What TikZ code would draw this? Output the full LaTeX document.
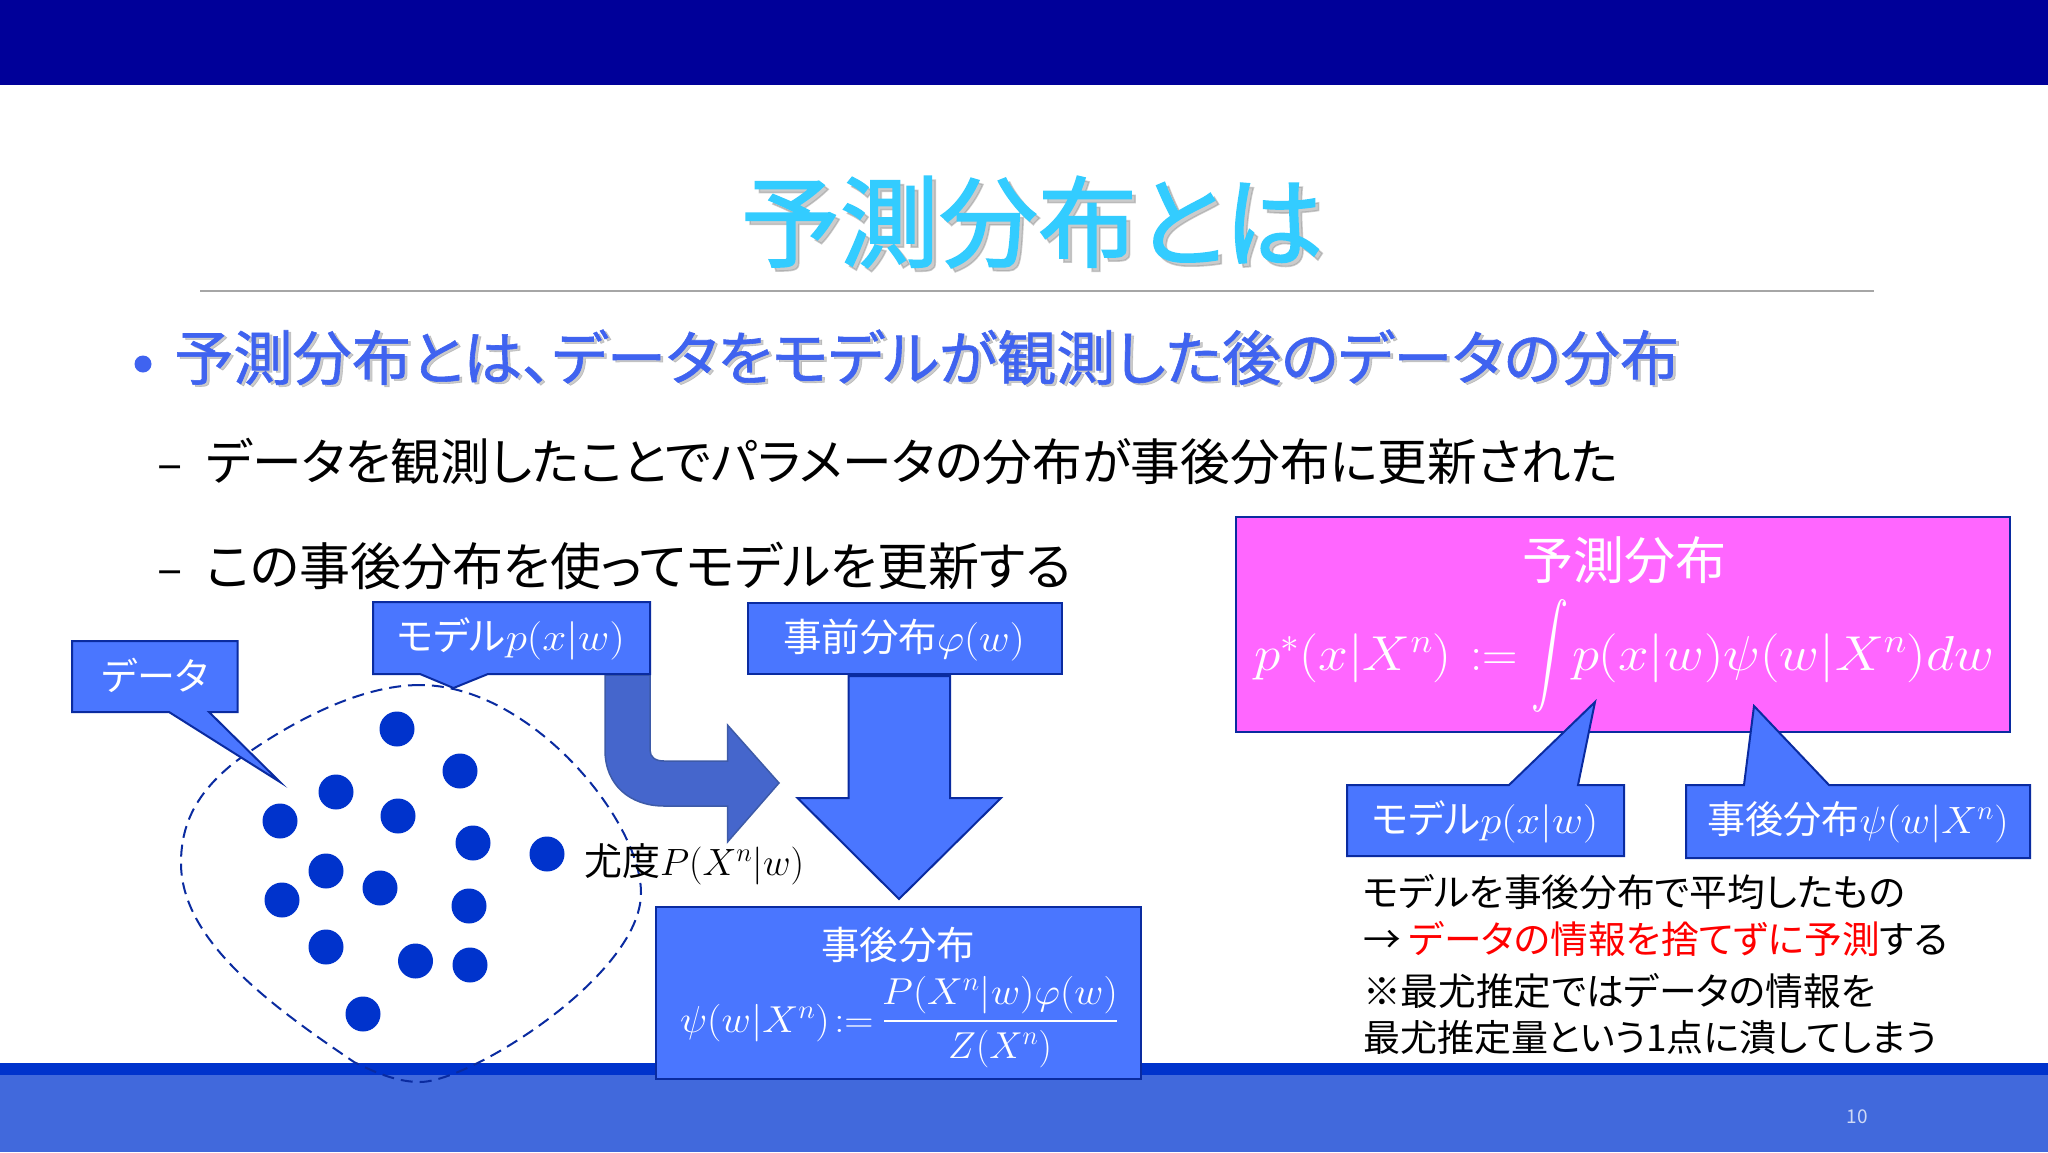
\RequirePackage{fix-cm}
\documentclass[tikz,border=0pt]{standalone}
\usepackage{amsmath}
\usepackage{fontspec}
\setmainfont[RawFeature={+palt}]{Noto Sans CJK JP}
\newfontfamily\headfont[RawFeature={+palt},FakeBold=1.6]{Noto Sans CJK JP}
\newfontfamily\bulletfont[RawFeature={+palt},FakeBold=1]{Noto Sans CJK JP}
\usetikzlibrary{calc}
\definecolor{topbar}{HTML}{000099}
\definecolor{botline}{HTML}{0033CC}
\definecolor{botbar}{HTML}{4169DC}
\definecolor{boxblue}{HTML}{4A76FF}
\definecolor{edgeblue}{HTML}{0A2BA0}
\definecolor{pinkbox}{HTML}{FF66FF}
\definecolor{dotblue}{HTML}{0033CC}
\definecolor{titleblue}{HTML}{33CCFF}
\definecolor{bulletblue}{HTML}{3F63F0}
\definecolor{bentfill}{HTML}{4566CC}
\definecolor{bentedge}{HTML}{3D5AA8}
\newcommand\fsz[1]{\fontsize{#1bp}{#1bp}\selectfont}
\newcommand\mth[2]{\scalebox{#1}[1]{$#2$}}
\tikzset{
  x=1bp,y=-1bp,
  callout/.style={fill=boxblue,draw=edgeblue,line width=2bp,line join=miter},
  pinkshape/.style={fill=pinkbox,draw=edgeblue,line width=2bp},
  label/.style={inner sep=0pt,outer sep=0pt,text=white,anchor=base},
  labelblack/.style={inner sep=0pt,outer sep=0pt,text=black,anchor=base west},
  datum/.style={circle,fill=dotblue,minimum size=35bp,inner sep=0pt},
  shadowtext/.style={inner sep=0pt,outer sep=0pt,text=black!40,opacity=.5},
}
\begin{document}
\begin{tikzpicture}
\useasboundingbox (0,0) rectangle (2048,1152);
\fill[white] (0,0) rectangle (2048,1152);
\fill[topbar] (0,0) rectangle (2048,85);
\fill[botbar] (0,1075) rectangle (2048,1152);
\fill[botline] (0,1063) rectangle (2048,1075);
\node[text=white!75!botbar,inner sep=0pt] (page) at (1857,1117) {\fsz{19}10};
% title
\node[shadowtext,anchor=center] (titleS) at (1036,226) {\fsz{99}\headfont 予測分布とは};
\node[inner sep=0pt,text=titleblue,anchor=center] (title) at (1032,222) {\fsz{99}\headfont 予測分布とは};
\draw[black!35,line width=1.5bp] (200,291) -- (1874,291);
% bullets
\node[datum,fill=bulletblue,minimum size=17bp] (bdot) at (143,364) {};
\node[shadowtext,anchor=base west] (b1S) at (177,382) {\fsz{59.2}\bulletfont 予測分布とは、データをモデルが観測した後のデータの分布};
\node[inner sep=0pt,text=bulletblue,anchor=base west] (b1) at (174,380) {\fsz{59.2}\bulletfont 予測分布とは、データをモデルが観測した後のデータの分布};
\node[labelblack] (d1) at (157,480) {\fsz{47}–};
\node[labelblack] (s1) at (206,480) {\fsz{49.7}データを観測したことでパラメータの分布が事後分布に更新された};
\node[labelblack] (d2) at (157,585) {\fsz{47}–};
\node[labelblack] (s2) at (206,585) {\fsz{51}この事後分布を使ってモデルを更新する};
% data cloud
\draw[edgeblue,line width=2bp,dash pattern=on 12bp off 7bp]
  (420,685) .. controls (360,685) and (290,722) .. (235,762)
  .. controls (200,790) and (181,820) .. (181,863)
  .. controls (181,940) and (270,1005) .. (354,1062)
  .. controls (380,1075) and (400,1082) .. (420,1082)
  .. controls (470,1082) and (641,975) .. (641,893)
  .. controls (641,820) and (530,685) .. (420,685) -- cycle;
\foreach \n/\px/\py in {a/397/729,b/460/771,c/336/792,d/398/816,e/280/821,f/473/843,g/547/854,h/326/871,i/380/888,j/282/900,k/469/906,l/326/947,m/415.5/961,n/470/965,o/363/1014}
  \node[datum] (dot\n) at (\px,\py) {};
% bent arrow
\draw[fill=bentfill,draw=bentedge,line width=1.5bp]
  (605,675) -- (650,675) -- (650,750) .. controls (650,757) and (655,761) .. (664,761)
  -- (727.5,761) -- (727.5,725) -- (779,783) -- (727.5,842) -- (727.5,806) -- (664,806)
  .. controls (630,806) and (605,785) .. (605,750) -- cycle;
% callouts left
\draw[callout] (72,641) -- (237.5,641) -- (237.5,712) -- (209,712) -- (280,782) -- (169,712) -- (72,712) -- cycle;
\node[label] (tdata) at (155,690) {\fsz{38}データ};
\draw[callout] (373,602) -- (650,602) -- (650,674) -- (488,674) -- (453.5,688) -- (420,674) -- (373,674) -- cycle;
\node[label] (tmodel) at (511,650) {\fsz{38.5}モデル\mth{1.12}{p(x|w)}};
\draw[callout] (747.5,603) rectangle (1062,674);
\node[label] (tprior) at (904,651) {\fsz{38.5}事前分布\mth{1.1}{\varphi(w)}};
% down arrow
\draw[callout] (848.6,676) -- (950,676) -- (950,798) -- (1001,798) -- (899,899) -- (797.5,798) -- (848.6,798) -- cycle;
\node[labelblack] (tlik) at (584,875) {\fsz{38}尤度$P(X^n|w)$};
% posterior
\draw[callout] (656,907) rectangle (1141,1079);
\node[label] (tpost) at (898,959) {\fsz{38.5}事後分布};
\node[label,anchor=base west] (tpsi) at (680,1032) {\fsz{37.5}\mth{1.08}{\psi(w|X^n)\!:=}};
\node[label] (tnum) at (1000,1004) {\fsz{37.5}\mth{1.07}{P(X^n|w)\varphi(w)}};
\draw[white,line width=2bp] (884,1021) -- (1117,1021);
\node[label] (tden) at (1000,1058) {\fsz{37.5}$Z(X^n)$};
% predictive box
\draw[pinkshape] (1236,517) rectangle (2010,732);
\node[label] (tpred) at (1624,579) {\fsz{51}予測分布};
\node[label,anchor=base west] (eq1) at (1254,670) {\fsz{49}\mth{1.09}{p^{*}(x|X^n)}};
\node[label,anchor=base west] (eq2) at (1470,670) {\fsz{49}$:=$};
\node[label,anchor=center] (eqint) at (1550,656) {\fsz{49}\scalebox{1.5}[2.05]{$\displaystyle\int$}};
\node[label,anchor=base west] (eq3) at (1572,670) {\fsz{49}\mth{1.12}{p(x|w)\psi(w|X^n)dw}};
% callouts right
\draw[callout] (1347,785) -- (1509,785) -- (1595,702) -- (1578,785) -- (1624,785) -- (1624,856) -- (1347,856) -- cycle;
\node[label] (tm2) at (1485,833) {\fsz{38.5}モデル\mth{1.11}{p(x|w)}};
\draw[callout] (1686,785) -- (1744,785) -- (1754,706) -- (1829,785) -- (2030,785) -- (2030,858) -- (1686,858) -- cycle;
\node[label] (tq2) at (1858,833) {\fsz{38}事後分布\mth{1.06}{\psi(w|X^n)}};
% notes
\node[labelblack] (n1) at (1363,906) {\fsz{37.7}モデルを事後分布で平均したもの};
\node[labelblack] (n2) at (1363,953) {\fsz{37.7}→ {\color{red}データの情報を捨てずに予測}する};
\node[labelblack] (n3) at (1363,1005) {\fsz{37.7}※最尤推定ではデータの情報を};
\node[labelblack] (n4) at (1363,1051) {\fsz{37}最尤推定量という1点に潰してしまう};
\end{tikzpicture}
\end{document}
